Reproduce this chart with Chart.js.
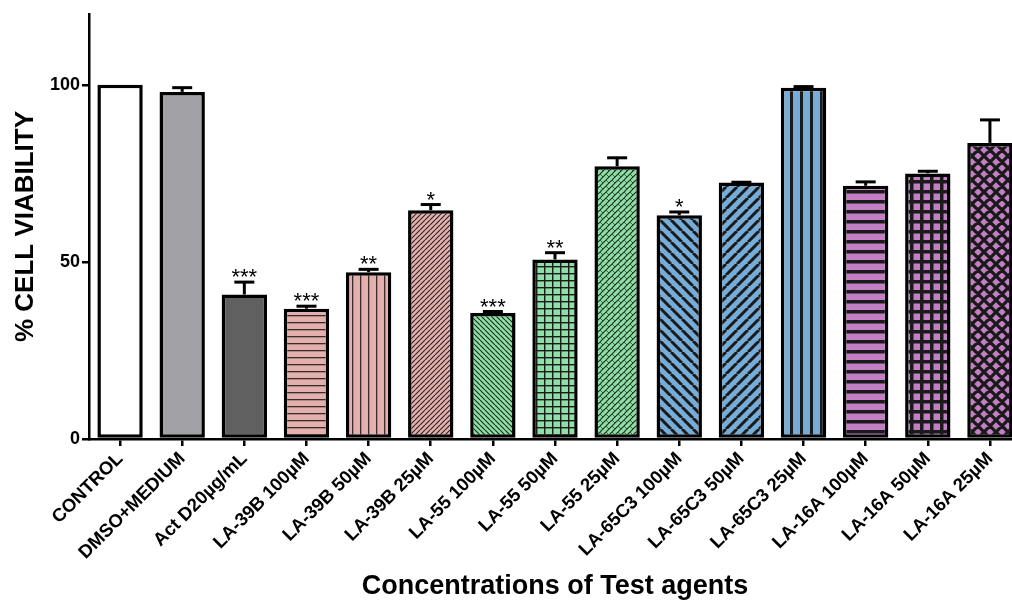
<!DOCTYPE html>
<html>
<head>
<meta charset="utf-8">
<script src="https://cdn.jsdelivr.net/npm/chart.js@4/dist/chart.umd.min.js"></script>
<style>
html,body{margin:0;padding:0;background:#fff;overflow:hidden;}
#wrap{position:relative;width:1021px;height:600px;}
</style>
</head>
<body>
<div id="wrap"><canvas id="c" width="1021" height="600"></canvas></div>
<script>
const categories = ['CONTROL','DMSO+MEDIUM','Act D20µg/mL','LA-39B 100µM','LA-39B 50µM','LA-39B 25µM','LA-55 100µM','LA-55 50µM','LA-55 25µM','LA-65C3 100µM','LA-65C3 50µM','LA-65C3 25µM','LA-16A 100µM','LA-16A 50µM','LA-16A 25µM'];
const viability = [100, 98.0, 40.8, 36.8, 47.1, 64.6, 35.6, 50.7, 77.0, 63.2, 72.4, 99.2, 71.5, 75.0, 83.6];
const errorUp = [0, 1.2, 3.5, 0.7, 0.8, 1.6, 0.4, 1.9, 2.4, 0.9, 0.1, 0.3, 1.1, 0.6, 6.5];
const significance = ['', '', '***', '***', '**', '*', '***', '**', '', '*', '', '', '', '', ''];
const yTicks = [0, 50, 100];

const PINK = '#e3b0ae', GREEN = '#8ddfa6', BLUE = '#76acd8', PURPLE = '#c37ec5';
const FONT = '"Liberation Sans", Arial, sans-serif';

function mkPattern(w, h, bg, draw) {
  const c = document.createElement('canvas');
  c.width = w; c.height = h;
  const g = c.getContext('2d');
  g.fillStyle = bg; g.fillRect(0, 0, w, h);
  g.strokeStyle = '#1a1a1a';
  draw(g, w, h);
  return g.createPattern(c, 'repeat');
}
function hLines(bg, s, lw, col) { return mkPattern(s, s, bg, (g, w, h) => { g.fillStyle = col || '#1a1a1a'; g.fillRect(0, 0, w, lw); }); }
function vLines(bg, s, lw, col) { return mkPattern(s, s, bg, (g, w, h) => { g.fillStyle = col || '#1a1a1a'; g.fillRect(0, 0, lw, h); }); }
function grid(bg, sx, sy, lw) { return mkPattern(sx, sy, bg, (g, w, h) => { g.fillStyle = '#1a1a1a'; g.fillRect(0, 0, w, lw); g.fillRect(0, 0, lw, h); }); }
function diag(bg, s, lw, dir, col) {
  return mkPattern(s, s, bg, (g, w, h) => {
    g.strokeStyle = col || '#1a1a1a'; g.lineWidth = lw;
    g.beginPath();
    for (let k = -1; k <= 1; k++) {
      if (dir > 0) { g.moveTo(k * w, h); g.lineTo(k * w + w, 0); }
      else { g.moveTo(k * w, 0); g.lineTo(k * w + w, h); }
    }
    g.stroke();
  });
}
function cross(bg, s, lw, col) {
  return mkPattern(s, s, bg, (g, w, h) => {
    g.strokeStyle = col || '#1a1a1a'; g.lineWidth = lw;
    g.beginPath();
    for (let k = -1; k <= 1; k++) {
      g.moveTo(k * w, h); g.lineTo(k * w + w, 0);
      g.moveTo(k * w, 0); g.lineTo(k * w + w, h);
    }
    g.stroke();
  });
}

const fills = [
  '#ffffff',
  '#a2a2a6',
  '#606060',
  hLines(PINK, 7, 1.3, '#3a2a2a'),
  vLines(PINK, 8, 1.3, '#3a2a2a'),
  diag(PINK, 5, 1.1, 1, '#2a2020'),
  diag(GREEN, 5, 1.1, -1, '#1a2a1a'),
  grid(GREEN, 8, 7, 1.4),
  mkPattern(6, 6, GREEN, (g, w, h) => {
    g.strokeStyle = '#1a2a1a'; g.lineWidth = 1.1;
    g.beginPath();
    for (let k = -1; k <= 1; k++) { g.moveTo(k * w, h); g.lineTo(k * w + w, 0); }
    g.stroke();
    g.lineWidth = 0.7; g.beginPath(); g.moveTo(0, 0); g.lineTo(3, 3); g.stroke();
  }),
  diag(BLUE, 11, 3, -1),
  diag(BLUE, 11, 3, 1),
  vLines(BLUE, 10, 3),
  hLines(PURPLE, 10, 3.5),
  grid(PURPLE, 10, 10, 3.5),
  cross(PURPLE, 12, 3.2)
];

const overlay = {
  id: 'errorsAndStars',
  afterDatasetsDraw(chart) {
    const ctx = chart.ctx;
    const meta = chart.getDatasetMeta(0);
    const y = chart.scales.y;
    ctx.save();
    meta.data.forEach((bar, i) => {
      const top = y.getPixelForValue(viability[i]);
      const capY = y.getPixelForValue(viability[i] + errorUp[i]);
      if (errorUp[i] > 0) {
        ctx.strokeStyle = '#000';
        ctx.lineWidth = 3;
        ctx.beginPath();
        ctx.moveTo(bar.x, top);
        ctx.lineTo(bar.x, capY);
        ctx.stroke();
        ctx.beginPath();
        ctx.moveTo(bar.x - 10, capY);
        ctx.lineTo(bar.x + 10, capY);
        ctx.stroke();
      }
      if (significance[i]) {
        ctx.fillStyle = '#000';
        ctx.font = '22px ' + FONT;
        ctx.textAlign = 'center';
        ctx.textBaseline = 'top';
        ctx.fillText(significance[i], bar.x, capY - 15);
      }
    });
    ctx.restore();
  }
};

new Chart(document.getElementById('c'), {
  type: 'bar',
  data: {
    labels: categories,
    datasets: [{
      data: viability,
      backgroundColor: fills,
      borderColor: '#000',
      borderWidth: 3.5,
      borderSkipped: false,
      barPercentage: 0.73,
      categoryPercentage: 1.0
    }]
  },
  options: {
    responsive: false,
    animation: false,
    layout: { padding: { top: 14, right: 0, left: 10, bottom: 0 } },
    plugins: { legend: { display: false }, tooltip: { enabled: false } },
    scales: {
      x: {
        grid: { display: true, offset: false, drawOnChartArea: false, drawTicks: true, tickLength: 7, color: '#000', lineWidth: 2.5 },
        border: { display: true, color: '#000', width: 2.5 },
        ticks: {
          color: '#000',
          font: { family: FONT, size: 18.5, weight: 'bold' },
          minRotation: 45, maxRotation: 45, padding: 2, autoSkip: false
        },
        title: {
          display: true,
          text: 'Concentrations of Test agents',
          color: '#000',
          font: { family: FONT, size: 27, weight: 'bold' },
          padding: { top: 0, bottom: -3 }
        },
        afterFit(scale) { scale.height = 161; }
      },
      y: {
        min: 0, max: 120,
        afterBuildTicks(scale) { scale.ticks = yTicks.map(v => ({ value: v })); },
        grid: { display: true, drawOnChartArea: false, drawTicks: true, tickLength: 7, color: '#000', lineWidth: 2.5 },
        border: { display: true, color: '#000', width: 2.5 },
        ticks: {
          color: '#000',
          font: { family: FONT, size: 18, weight: 'bold' },
          padding: 2
        },
        title: {
          display: true,
          text: '% CELL VIABILITY',
          color: '#000',
          font: { family: FONT, size: 26, weight: 'bold' },
          padding: { top: 0, bottom: 8 }
        },
        afterFit(scale) { scale.width = 79; }
      }
    }
  },
  plugins: [overlay]
});
</script>
</body>
</html>
